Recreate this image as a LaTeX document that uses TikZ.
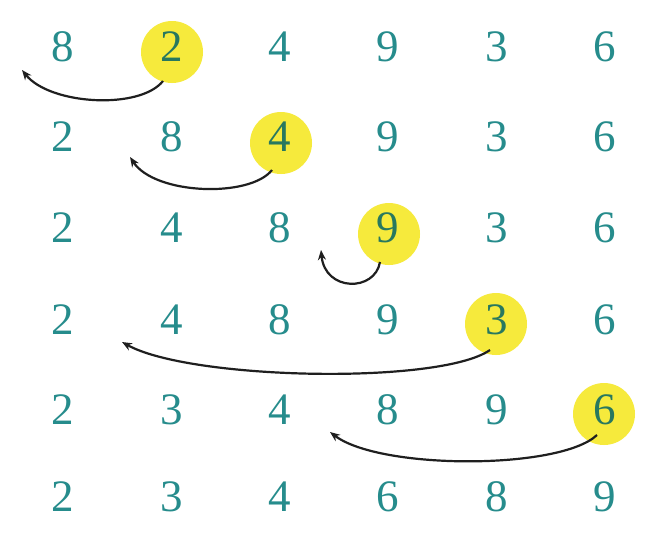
\documentclass[tikz,border=0pt]{standalone}
\usepackage{fontspec}
\setmainfont{Liberation Serif}
\usetikzlibrary{arrows.meta}
\definecolor{digitteal}{RGB}{38,140,140}
\definecolor{hidigit}{RGB}{40,120,95}
\definecolor{hiyellow}{RGB}{246,234,60}
\tikzset{
  digit/.style={text=digitteal, font=\fontsize{45}{45}\selectfont, inner sep=0pt, anchor=center},
  hidig/.style={digit, text=hidigit},
  hicircle/.style={fill=hiyellow, draw=none, circle, minimum size=62pt, inner sep=0pt},
  swaparc/.style={draw=black!88, line width=2.2pt, -{Stealth[length=10pt,width=8pt]}}
}
\begin{document}
\begin{tikzpicture}[x=1pt,y=-1pt]
\useasboundingbox (0,0) rectangle (651,541);
\fill[white] (0,0) rectangle (651,541);
% highlight circles
\node[hicircle] (h1) at (172,52) {};
\node[hicircle] (h2) at (281,143) {};
\node[hicircle] (h3) at (389,234) {};
\node[hicircle] (h4) at (496,324) {};
\node[hicircle] (h5) at (604,414) {};
% rows
\foreach \r/\y/\vals/\hi in {1/47/{8,2,4,9,3,6}/2, 2/137/{2,8,4,9,3,6}/3, 3/228/{2,4,8,9,3,6}/4, 4/320/{2,4,8,9,3,6}/5, 5/410/{2,3,4,8,9,6}/6, 6/497/{2,3,4,6,8,9}/0}{
  \foreach \v [count=\c] in \vals {
    \pgfmathsetmacro\xx{63+(\c-1)*108.4}
    \ifnum\c=\hi
      \node[hidig] (d\r\c) at (\xx,\y) {\v};
    \else
      \node[digit] (d\r\c) at (\xx,\y) {\v};
    \fi
  }
}
% arc endpoints
\coordinate (s1) at (163,81);  \coordinate (e1) at (22,70);
\coordinate (s2) at (272,170); \coordinate (e2) at (130,157);
\coordinate (s3) at (380,262); \coordinate (e3) at (321,250);
\coordinate (s4) at (490,350); \coordinate (e4) at (122,342);
\coordinate (s5) at (597,435); \coordinate (e5) at (330,432);
\draw[swaparc] (s1) .. controls (140,110) and (50,105) .. (e1);
\draw[swaparc] (s2) .. controls (250,198) and (155,195) .. (e2);
\draw[swaparc] (s3) .. controls (375,292) and (325,292) .. (e3);
\draw[swaparc] (s4) .. controls (440,385) and (190,380) .. (e4);
\draw[swaparc] (s5) .. controls (560,470) and (380,470) .. (e5);
\end{tikzpicture}
\end{document}
